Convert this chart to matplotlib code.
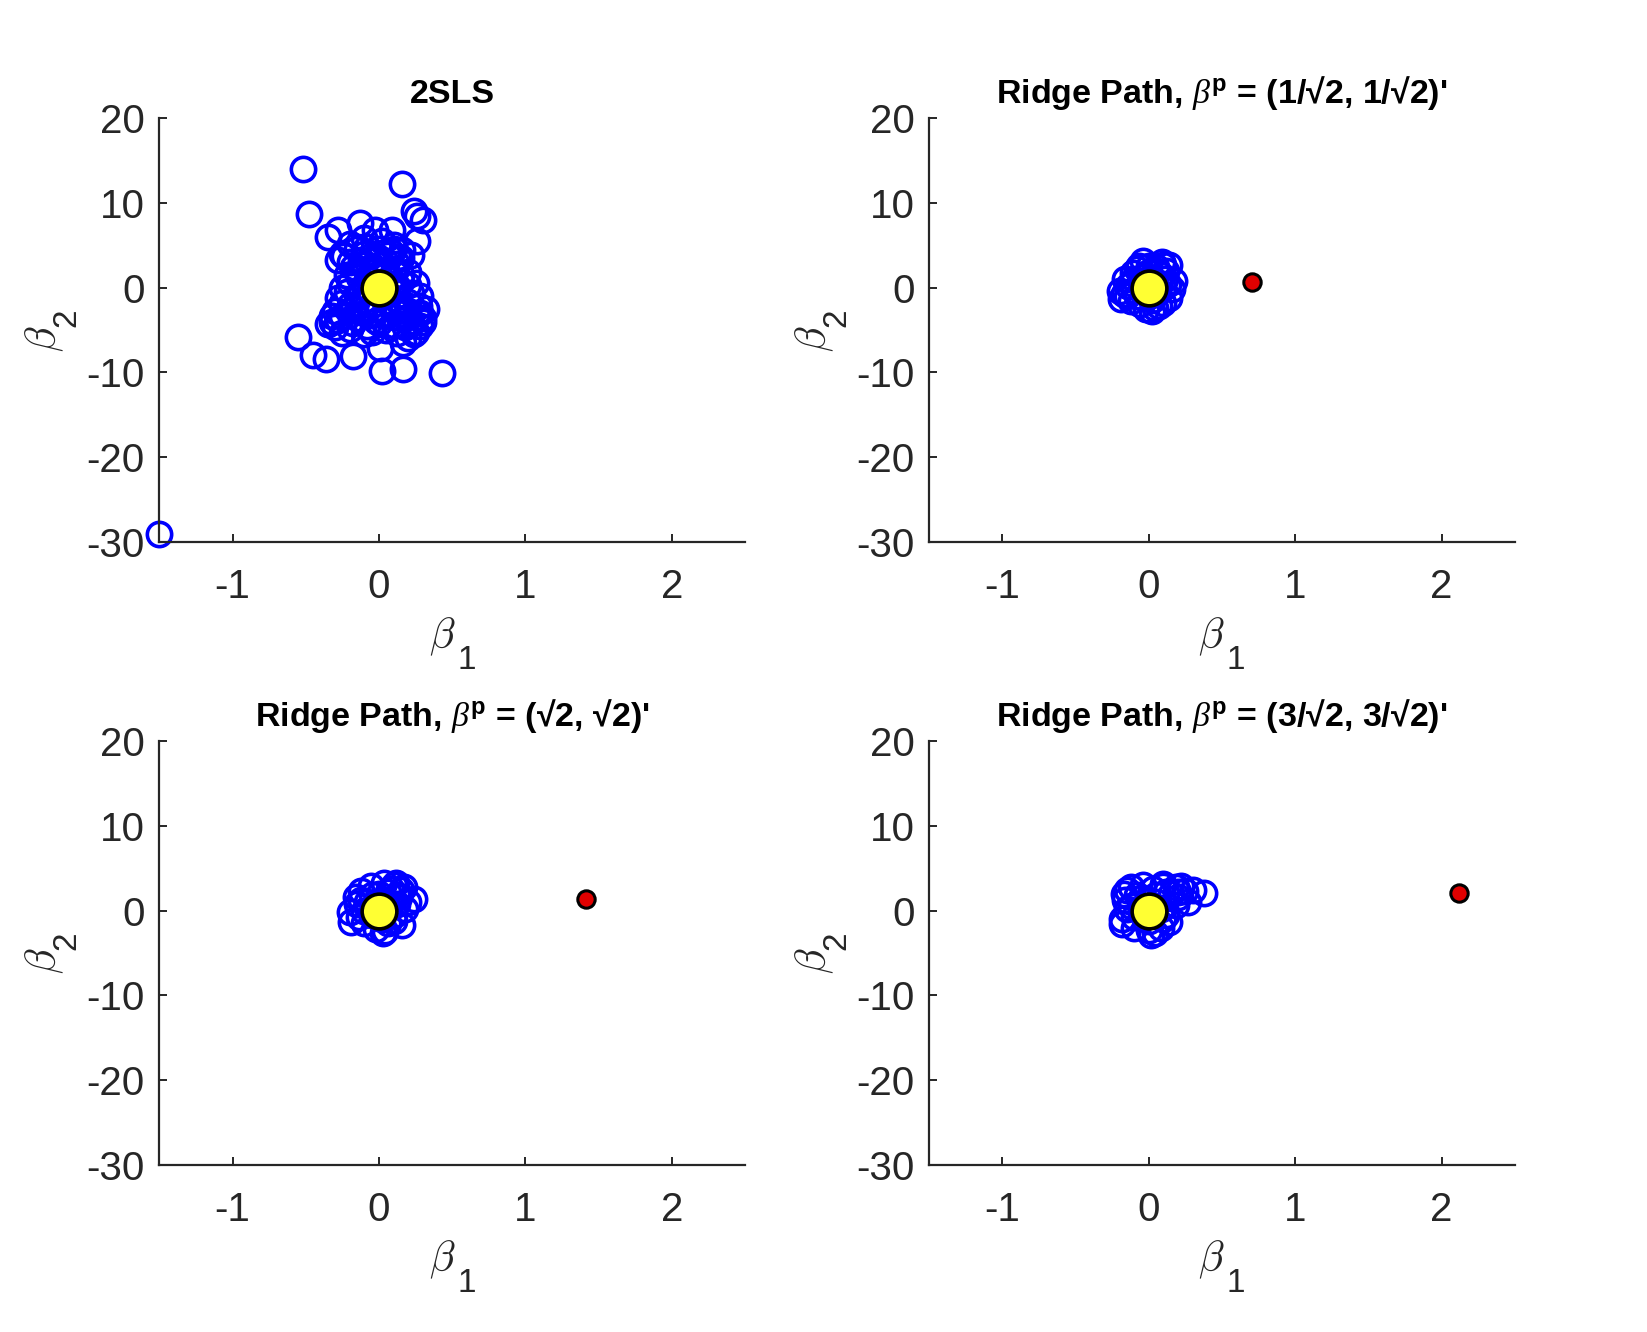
import numpy as np
import matplotlib
matplotlib.use("Agg")
import matplotlib.pyplot as plt
from matplotlib.transforms import offset_copy

plt.rcParams['font.family'] = ['Liberation Sans', 'DejaVu Sans']
plt.rcParams['axes.unicode_minus'] = False
plt.rcParams['mathtext.fontset'] = 'custom'
plt.rcParams['mathtext.rm'] = 'Liberation Sans'
plt.rcParams['mathtext.bf'] = 'Liberation Sans:bold'
plt.rcParams['mathtext.it'] = 'Liberation Serif:italic'

# ---- data ----
tsls_b1 = [-1.50, -0.52, 0.16, -0.48, 0.24, 0.26, 0.30, 0.26, -0.35, -0.28, -0.13, -0.03, 0.09,
           -0.24, 0.15, -0.25, -0.20, -0.10, 0.02, 0.10, 0.16, 0.22, -0.28,
           -0.15, -0.08, 0.00, 0.08, 0.13, -0.12, -0.05, 0.05, -0.18, 0.10, -0.02, 0.15,
           -0.14, 0.00, 0.06, -0.10,
           -0.20, -0.22, 0.20, 0.22, -0.10, 0.10, 0.00, -0.15, 0.15,
           -0.25, -0.10, 0.05, 0.20, 0.27, -0.30, -0.18, 0.00, 0.12, 0.28,
           -0.28, -0.15, -0.02, 0.10, 0.22, 0.30, -0.30, -0.20, -0.08, 0.05, 0.18, 0.28,
           -0.25, -0.10, 0.12, 0.25, 0.00, -0.05, 0.15,
           -0.32, -0.35, 0.26, 0.30, 0.24, 0.165, 0.01, -0.18, -0.36, -0.45, -0.55,
           0.02, 0.165, 0.43, 0.20,
           -0.20, -0.10, 0.00, 0.10, -0.15, -0.05, 0.05, 0.12, -0.22, -0.08, 0.08, 0.20,
           -0.25, -0.12, 0.12, 0.25, -0.28, 0.28, -0.20, 0.10, -0.05, 0.20, -0.25, -0.10,
           0.05, 0.18, -0.18, 0.10, 0.22, -0.05, -0.32, 0.32]
tsls_b2 = [-29.0, 14.0, 12.2, 8.7, 9.0, 8.4, 8.0, 5.45, 5.96, 6.8, 7.6, 6.8, 6.8,
           3.7, 3.5, 4.0, 5.2, 5.8, 5.5, 5.0, 4.4, 3.8, 3.2,
           4.5, 4.8, 4.6, 4.2, 3.6, 3.2, 3.8, 3.0, 2.4, 2.2, 2.0, 1.5,
           1.2, 1.5, 3.9, 2.7,
           0.5, -0.5, 0.3, -0.6, 0.2, -0.3, -0.8, -1.0, 0.8,
           -1.8, -1.5, -1.6, -1.7, -2.2, -2.8, -2.5, -2.6, -2.8, -3.0,
           -3.8, -3.6, -3.9, -3.5, -3.9, -3.6, -4.6, -4.9, -4.5, -5.0, -4.7, -4.5,
           -5.4, -5.5, -5.4, -5.2, -4.2, -3.2, -2.2,
           -4.1, -4.3, -3.0, -4.0, -5.5, -6.5, -7.1, -8.1, -8.4, -8.0, -5.8,
           -9.8, -9.6, -10.1, -6.0,
           3.0, 4.0, 3.5, 4.5, 2.0, 2.5, 2.0, 2.8, 1.5, 1.0, 1.0, 1.8,
           0.0, -0.5, 0.2, 0.5, -1.2, -1.0, -2.0, -1.2, -2.0, -2.8, -3.4, -3.0,
           -3.2, -3.6, -4.2, -4.4, -4.3, -5.2, -3.4, -2.5]

ridge1_b1 = [-0.20, -0.19, -0.15, -0.11, -0.12, -0.08, -0.04, -0.04, 0.00, 0.02, 0.04, 0.06,
             0.09, 0.12, 0.14, 0.17, 0.16, 0.14, 0.07, 0.07, 0.02, -0.02, -0.06, -0.10,
             -0.14, -0.17, 0.05, 0.11, -0.03, 0.10, -0.07, -0.16,
             -0.10, 0.00, 0.08, 0.10, 0.00, -0.08, 0.05, -0.12, 0.10, -0.05, 0.13]
ridge1_b2 = [-0.4, -1.4, -1.0, 1.76, 0.6, 2.2, 3.1, 1.2, 2.6, -2.8, -2.4, 1.8,
             3.0, 2.0, 2.7, 0.74, -0.2, -1.2, -2.2, 0.5, -1.5, -2.5, -1.9, -0.3,
             0.2, -0.8, -0.6, 1.0, 0.3, 2.7, 2.6, 1.0,
             1.0, 1.8, 1.5, 0.0, -1.0, -1.0, 2.4, -1.6, -1.8, 0.8, 0.4]

ridge2_b1 = [0.24, 0.116, 0.036, 0.025, -0.19, -0.20, -0.12, -0.055, 0.16, 0.18, 0.12, 0.08,
             0.00, -0.08, -0.15, -0.10, -0.02, 0.06, 0.10, 0.20, 0.15, 0.04, -0.14, 0.00,
             0.05, -0.05, 0.17, 0.10, -0.16,
             -0.10, 0.02, 0.10, 0.12, -0.05, 0.06, -0.12, 0.14]
ridge2_b2 = [1.4, 3.2, 3.3, -2.7, -1.33, -0.2, 2.35, 2.9, -1.75, 0.2, 1.8, 2.6,
             2.0, 1.0, 0.8, -1.5, -2.2, -1.5, -0.5, 1.0, 2.4, -2.4, -0.8, 0.5,
             1.1, -0.5, 2.8, 3.0, 1.6,
             0.0, -1.0, -1.2, 0.8, 1.8, 2.2, 1.2, 1.6]

ridge3_b1 = [0.376, 0.25, 0.185, 0.094, -0.04, -0.15, -0.18, -0.18, 0.016, 0.14, 0.185, 0.27,
             0.12, 0.03, -0.08, -0.16, -0.15, -0.10, 0.00, 0.08, 0.12, 0.20, 0.30, 0.05,
             -0.05, 0.10, -0.12, 0.22, 0.04, -0.17,
             -0.10, 0.00, 0.08, 0.15, 0.05, -0.05, 0.20, 0.10, -0.12]
ridge3_b2 = [2.1, 2.35, 2.8, 3.1, 3.0, 2.4, -1.0, -1.6, -2.9, -1.35, 0.6, 1.0,
             2.2, 2.6, 1.8, 1.2, 0.2, -2.0, -2.3, -2.0, -0.5, 1.6, 2.4, 1.0,
             0.0, 2.9, 2.8, 2.9, -2.7, 1.9,
             -0.8, -1.2, 0.2, 2.0, 1.8, 1.5, 2.2, -1.0, 0.5]

beta_true = (0.0, 0.0)
beta_prior = [None, (0.7071, 0.7071), (1.4142, 1.4142), (2.1213, 2.1213)]

titles = ["2SLS",
          r"Ridge Path, $\beta^{\mathbf{p}}$ = (1/√2, 1/√2)'",
          r"Ridge Path, $\beta^{\mathbf{p}}$ = (√2, √2)'",
          r"Ridge Path, $\beta^{\mathbf{p}}$ = (3/√2, 3/√2)'"]

xticks = [-1, 0, 1, 2]
yticks = [-30, -20, -10, 0, 10, 20]

clouds = [(tsls_b1, tsls_b2), (ridge1_b1, ridge1_b2),
          (ridge2_b1, ridge2_b2), (ridge3_b1, ridge3_b2)]

# ---- figure ----
fig = plt.figure(figsize=(16.47, 13.32), dpi=100)
ink = '#262626'
lefts = [0.0968, 0.5642]
bottoms = [0.5931, 0.1254]
w, h = 0.3555, 0.3183


def beta_label(ax, sub, which):
    # MATLAB-style tex label: beta with a full-size subscript digit
    kw_b = dict(fontsize=30, math_fontfamily='cm', color=ink)
    kw_s = dict(fontsize=24, color=ink)
    if which == 'x':
        t1 = offset_copy(ax.transAxes, fig=fig, x=3, y=-106, units='dots')
        t2 = offset_copy(ax.transAxes, fig=fig, x=5, y=-127, units='dots')
        ax.text(0.5, 0, r'$\beta$', transform=t1, ha='right', va='baseline', **kw_b)
        ax.text(0.5, 0, sub, transform=t2, ha='left', va='baseline', **kw_s)
    else:
        t1 = offset_copy(ax.transAxes, fig=fig, x=-103, y=5, units='dots')
        t2 = offset_copy(ax.transAxes, fig=fig, x=-84, y=3, units='dots')
        ax.text(0, 0.5, r'$\beta$', transform=t1, rotation=90, rotation_mode='anchor',
                ha='right', va='baseline', **kw_b)
        ax.text(0, 0.5, sub, transform=t2, rotation=90, rotation_mode='anchor',
                ha='left', va='baseline', **kw_s)


for i in range(4):
    ax = fig.add_axes([lefts[i % 2], bottoms[i // 2], w, h])
    b1, b2 = clouds[i]
    ax.plot(b1, b2, 'o', ls='none', ms=17.5, mew=2.6, mfc='none', mec='#0000ff', clip_on=False)
    ax.plot([beta_true[0]], [beta_true[1]], 'o', ms=25, mew=2.6, mfc='#ffff33', mec='k')
    if beta_prior[i] is not None:
        ax.plot([beta_prior[i][0]], [beta_prior[i][1]], 'o', ms=12.5, mew=2.2,
                mfc='#e00000', mec='k')

    ax.set_xlim(-1.5, 2.5)
    ax.set_ylim(-30, 20)
    ax.set_xticks(xticks)
    ax.set_yticks(yticks)
    ax.spines['top'].set_visible(False)
    ax.spines['right'].set_visible(False)
    for s in ['left', 'bottom']:
        ax.spines[s].set_color(ink)
        ax.spines[s].set_linewidth(1.6)
    ax.tick_params(direction='in', length=6, width=1.4, colors=ink, labelsize=29)
    ax.tick_params(axis='x', pad=19)
    ax.tick_params(axis='y', pad=10.5)
    ax.set_title(titles[i], fontsize=24.5, fontweight='bold', pad=11)
    beta_label(ax, '1', 'x')
    beta_label(ax, '2', 'y')

fig.savefig('out.png', dpi=100)
